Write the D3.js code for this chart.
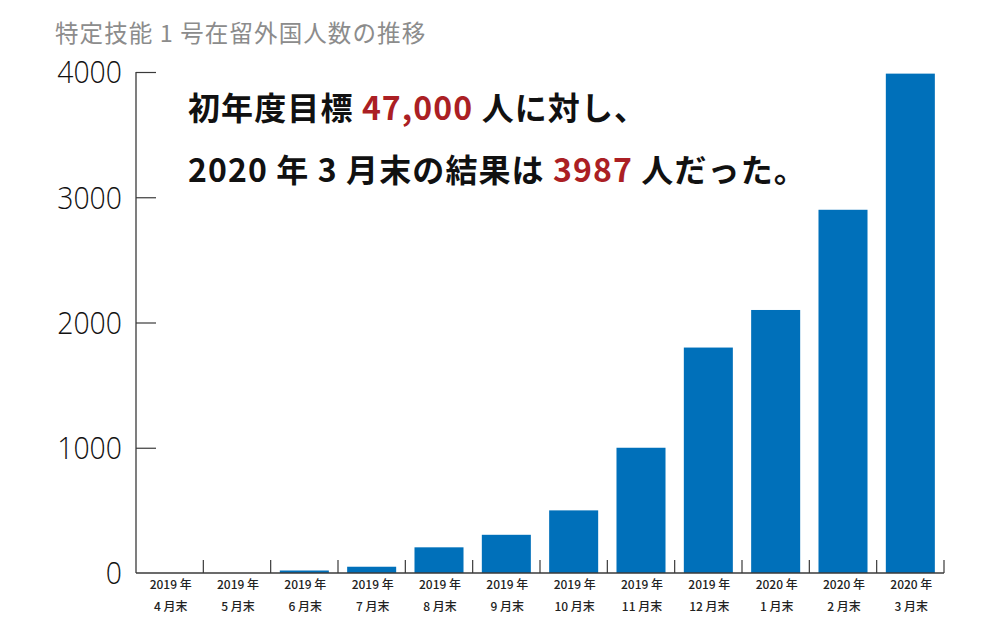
<!DOCTYPE html>
<html lang="ja">
<head>
<meta charset="utf-8">
<script src="https://cdn.jsdelivr.net/npm/d3@7"></script>
<style>
  html, body { margin: 0; padding: 0; background: #fff; }
  svg { display: block; }
</style>
</head>
<body>
<svg id="chart" width="1000" height="621"></svg>
<script>
// ---- data ----
const yearLabels  = ["2019 年","2019 年","2019 年","2019 年","2019 年","2019 年","2019 年","2019 年","2019 年","2020 年","2020 年","2020 年"];
const monthLabels = ["4 月末","5 月末","6 月末","7 月末","8 月末","9 月末","10 月末","11 月末","12 月末","1 月末","2 月末","3 月末"];
const values      = [0, 0, 20, 50, 205, 305, 500, 1000, 1800, 2100, 2900, 3987];
const yTicks      = [0, 1000, 2000, 3000, 4000];
const titleText   = "特定技能 1 号在留外国人数の推移";
const noteLine1   = [["初年度目標 ", false], ["47,000", true], [" 人に対し、", false]];
const noteLine2   = [["2020 年 3 月末の結果は ", false], ["3987", true], [" 人だった。", false]];

// ---- layout ----
const svg = d3.select("#chart");
const plotLeft = 136, plotRight = 944, plotTop = 72, plotBottom = 573;
const cats = d3.range(values.length);

const x = d3.scaleBand().domain(cats).range([plotLeft, plotRight]).paddingInner(0.272).paddingOuter(0.136);
const y = d3.scaleLinear().domain([0, 4000]).range([plotBottom, plotTop]);
const axisColor = "#3a3a3a";
const cjk = "'Noto Sans CJK JP', 'Noto Sans', sans-serif";

// title
svg.append("text")
  .attr("x", 55).attr("y", 42)
  .attr("font-family", cjk).attr("font-size", 23.5)
  .attr("letter-spacing", 1.1)
  .attr("fill", "#8c8c8c")
  .text(titleText);

// bars
svg.append("g").selectAll("rect").data(values).join("rect")
  .attr("x", (d, i) => x(i))
  .attr("width", x.bandwidth())
  .attr("y", d => y(d))
  .attr("height", d => plotBottom - y(d))
  .attr("fill", "#0070ba");

// y axis (ticks pointing inward)
const yAxis = d3.axisRight(y).tickValues(yTicks).tickSize(20).tickFormat("");
const gy = svg.append("g").attr("transform", `translate(${plotLeft},0)`).call(yAxis);
gy.select(".domain").remove();
gy.selectAll(".tick line").attr("stroke", axisColor).attr("stroke-width", 1.2)
  .filter(d => d === 0).remove();
svg.append("line").attr("x1", plotLeft).attr("x2", plotLeft).attr("y1", plotTop).attr("y2", plotBottom)
  .attr("stroke", axisColor).attr("stroke-width", 1.3);

// y tick labels
svg.append("g").selectAll("text").data(yTicks).join("text")
  .attr("x", 122).attr("y", d => y(d) + 3)
  .attr("text-anchor", "end").attr("dominant-baseline", "middle")
  .attr("font-family", "'Open Sans', Lato, sans-serif").attr("font-weight", 300)
  .attr("font-size", 31).attr("fill", "#111")
  .attr("textLength", d => String(d).length * 16.2).attr("lengthAdjust", "spacingAndGlyphs")
  .text(d => d);

// x axis baseline and separator ticks
svg.append("line").attr("x1", plotLeft).attr("x2", plotRight).attr("y1", plotBottom).attr("y2", plotBottom)
  .attr("stroke", axisColor).attr("stroke-width", 1.3);
svg.append("g").selectAll("line").data(d3.range(1, values.length + 1)).join("line")
  .attr("x1", i => plotLeft + i * x.step()).attr("x2", i => plotLeft + i * x.step())
  .attr("y1", plotBottom - 13).attr("y2", plotBottom)
  .attr("stroke", axisColor).attr("stroke-width", 1.2);

// x labels
const xl = svg.append("g").attr("font-family", cjk).attr("font-size", 12).attr("font-weight", 500)
  .attr("fill", "#222").attr("text-anchor", "middle");
xl.selectAll("text.yr").data(yearLabels).join("text").attr("class", "yr")
  .attr("x", (d, i) => x(i) + x.bandwidth() / 2 + 1).attr("y", 589).text(d => d);
xl.selectAll("text.mo").data(monthLabels).join("text").attr("class", "mo")
  .attr("x", (d, i) => x(i) + x.bandwidth() / 2 + 1).attr("y", 611).text(d => d);

// annotation
function note(parts, yPos) {
  const t = svg.append("text").attr("x", 188).attr("y", yPos)
    .attr("font-family", cjk).attr("font-weight", 700).attr("font-size", 32)
    .attr("letter-spacing", 1.1)
    .attr("fill", "#111").attr("xml:space", "preserve");
  parts.forEach(([s, red]) => t.append("tspan").attr("fill", red ? "#ab1f24" : "#111").text(s));
}
note(noteLine1, 120);
note(noteLine2, 182);
</script>
</body>
</html>
